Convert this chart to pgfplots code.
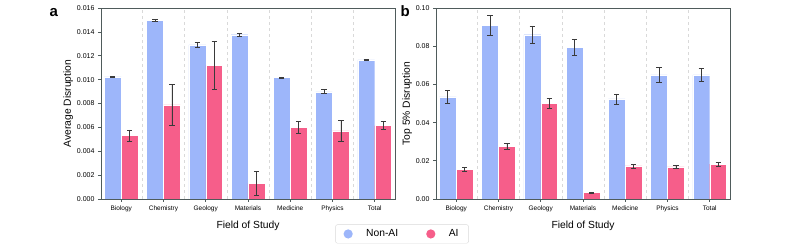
\documentclass[border=0pt]{standalone}
\usepackage{fontspec}
\setmainfont{Liberation Sans}
\usepackage{pgfplots}
\usepackage{pgfplotstable}
\pgfplotsset{compat=1.18}
\definecolor{nonai}{HTML}{9DB6FA}
\definecolor{ai}{HTML}{F65E8A}
\definecolor{spine}{HTML}{4F5B5B}
\definecolor{errc}{HTML}{3A3A3A}

\pgfplotstableread{
x nonai nonaie ai aie
0 0.01022 0.00004 0.00531 0.00048
1 0.01494 0.00010 0.00789 0.00173
2 0.01292 0.00020 0.01119 0.00200
3 0.01376 0.00014 0.00131 0.00103
4 0.01018 0.00004 0.00601 0.00049
5 0.00898 0.00017 0.00571 0.00088
6 0.01166 0.00003 0.00615 0.00035
}\dataA

\pgfplotstableread{
x nonai nonaie ai aie
0 0.0535 0.0033 0.0156 0.0010
1 0.0909 0.0052 0.0274 0.0015
2 0.0860 0.0046 0.0500 0.0028
3 0.0794 0.0040 0.0033 0.0002
4 0.0524 0.0026 0.0173 0.0010
5 0.0650 0.0038 0.0168 0.0010
6 0.0650 0.0035 0.0182 0.0012
}\dataB

\pgfplotsset{
  mybase/.style={
    scale only axis, width=294pt, height=191pt,
    xmin=-0.48, xmax=6.48, ymin=0,
    xtick={0,...,6},
    xticklabels={Biology,Chemistry,Geology,Materials,Medicine,Physics,Total},
    x tick label style={font=\fontsize{6.5}{7}\selectfont},
    y tick label style={font=\fontsize{7}{8}\selectfont},
    /pgf/number format/assume math mode=true,
    scaled y ticks=false,
    axis line style={spine, line width=0.8pt},
    tick style={spine, line width=0.6pt},
    tick align=outside, tick pos=left, major tick length=3pt,
    xlabel={Field of Study},
    label style={font=\fontsize{10.3}{12}\selectfont},
    ylabel shift=-3pt,
    extra x ticks={0.5,1.5,2.5,3.5,4.5,5.5},
    extra x tick labels={},
    extra x tick style={grid=major, major grid style={dashed, black!15, line width=0.6pt}, major tick length=0pt},
  },
  barstyle/.style={ybar, bar width=0.4, bar shift=0pt, fill=#1, draw=white, line width=0.4pt, forget plot,
    error bars/.cd, y dir=both, y explicit,
    error bar style={errc, line width=0.7pt},
    error mark options={rotate=90, mark size=2.6pt, errc, line width=0.7pt}},
  legcirc/.style={legend image code/.code={\fill[#1, draw=none] (0pt,0pt) circle (4.6pt); \path[draw=none, fill=none] (-4.6pt,-1pt) rectangle (16pt,1pt);}},
}

\begin{document}
\begin{tikzpicture}
\useasboundingbox (0,0) rectangle (793pt,246pt);
\begin{axis}[mybase, at={(101pt,47pt)}, anchor=south west,
  ymax=0.016, ytick={0,0.002,...,0.0161},
  yticklabel style={/pgf/number format/.cd, fixed, fixed zerofill, precision=3},
  ylabel={Average Disruption},
  legend columns=2,
  legend style={at={(1.024,-0.183)}, anchor=center, draw=black!15, rounded corners=2pt,
    font=\fontsize{10.3}{12}\selectfont, inner xsep=8pt, inner ysep=3pt,
    /tikz/every even column/.append style={column sep=26pt}},
  legend cell align=left,
]
\addplot[barstyle=nonai] table[x expr=\thisrow{x}-0.2, y=nonai, y error=nonaie]{\dataA};
\addplot[barstyle=ai] table[x expr=\thisrow{x}+0.2, y=ai, y error=aie]{\dataA};
\addlegendimage{legcirc=nonai}
\addlegendentry{Non-AI}
\addlegendimage{legcirc=ai}
\addlegendentry{AI}
\end{axis}
\begin{axis}[mybase, at={(436pt,47pt)}, anchor=south west,
  ymax=0.10, ytick={0,0.02,...,0.101},
  yticklabel style={/pgf/number format/.cd, fixed, fixed zerofill, precision=2},
  ylabel={Top 5\% Disruption},
]
\addplot[barstyle=nonai] table[x expr=\thisrow{x}-0.2, y=nonai, y error=nonaie]{\dataB};
\addplot[barstyle=ai] table[x expr=\thisrow{x}+0.2, y=ai, y error=aie]{\dataB};
\end{axis}
\node[font=\bfseries\fontsize{15}{15}\selectfont, anchor=base west] at (46pt,229pt) {a};
\node[font=\bfseries\fontsize{15}{15}\selectfont, anchor=base west] at (397pt,229pt) {b};
\end{tikzpicture}
\end{document}
